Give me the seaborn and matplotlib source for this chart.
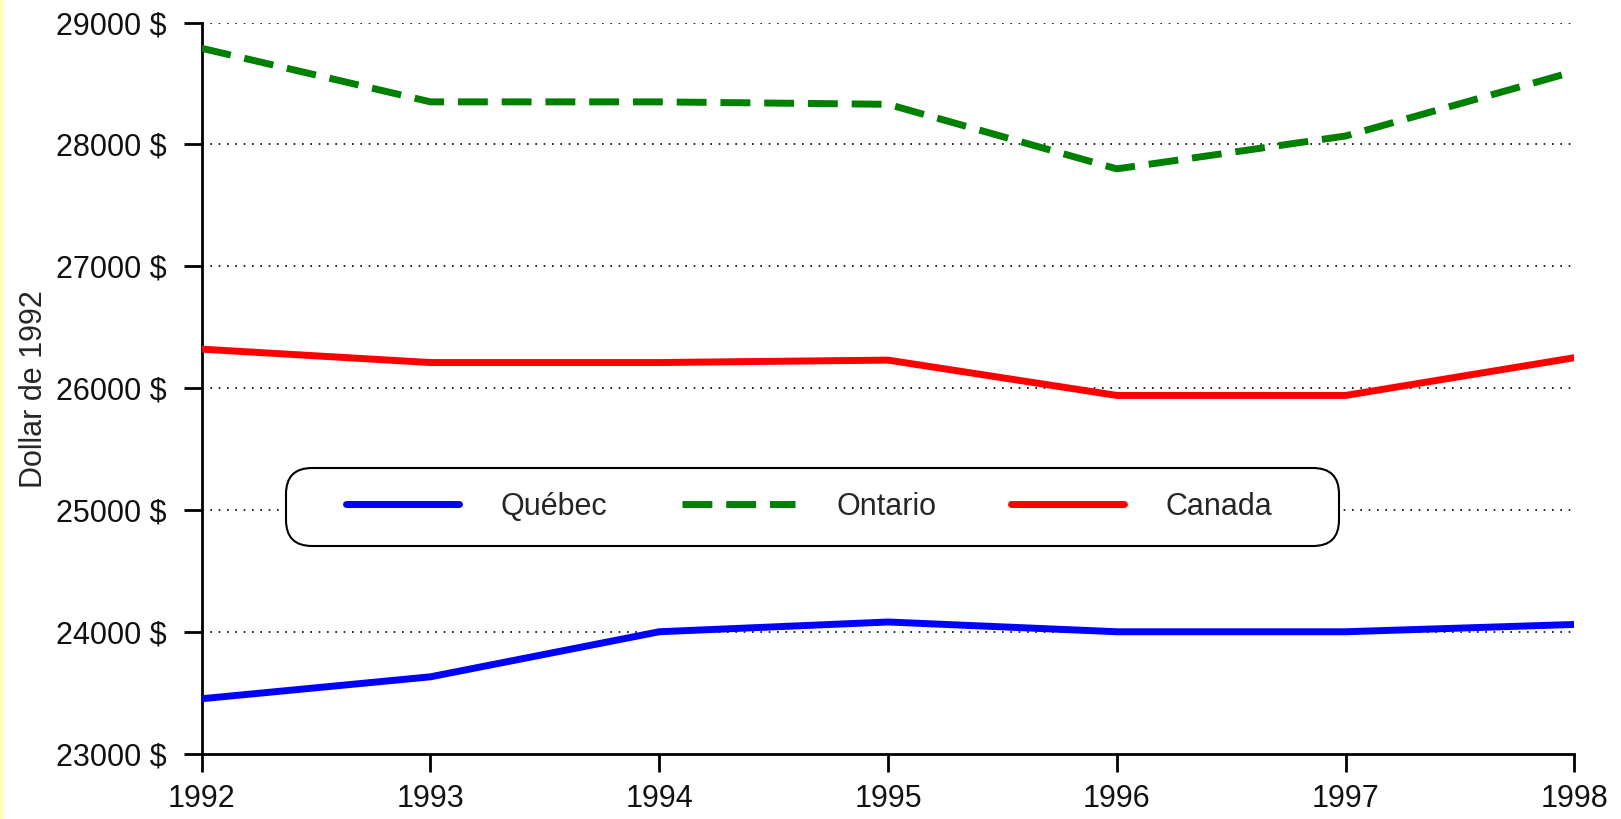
"""
Revenu moyen en dollars de 1992 : Québec, Ontario, Canada (1992-1998).
"""

import matplotlib
matplotlib.use("Agg")
import matplotlib.pyplot as plt
from matplotlib.patches import Rectangle, FancyBboxPatch
from matplotlib.ticker import FuncFormatter
import pandas as pd
import seaborn as sns

YEARS = [1992, 1993, 1994, 1995, 1996, 1997, 1998]
QUEBEC = [23450, 23630, 24000, 24080, 24000, 24000, 24060]
ONTARIO = [28790, 28350, 28350, 28330, 27800, 28070, 28600]
CANADA = [26320, 26210, 26210, 26230, 25940, 25940, 26250]

SERIES = ["Québec", "Ontario", "Canada"]
COLORS = {"Québec": "#0000FF", "Ontario": "#008000", "Canada": "#FF0000"}
YTICKS = [23000, 24000, 25000, 26000, 27000, 28000, 29000]
YLABEL = "Dollar de 1992"


def main():
    sns.set_style("white")
    plt.rcParams["font.family"] = ["Liberation Sans", "DejaVu Sans"]

    df = pd.DataFrame({
        "year": YEARS * 3,
        "value": QUEBEC + ONTARIO + CANADA,
        "region": [s for s in SERIES for _ in YEARS],
    })

    fig = plt.figure(figsize=(16.21, 8.19), dpi=100)
    fig.patch.set_facecolor("white")
    # pale yellow strip on the left edge
    fig.add_artist(Rectangle((0, 0), 4 / 1621, 1, transform=fig.transFigure,
                             facecolor="#FFFFC0", edgecolor="none", zorder=0))
    ax = fig.add_axes([0.1244, 0.0799, 0.8469, 0.8924])

    for region in SERIES:
        sub = df[df["region"] == region]
        line_kw = {"dashes": (4.3, 2.0)} if region == "Ontario" else {}
        sns.lineplot(data=sub, x="year", y="value", ax=ax, color=COLORS[region],
                     linewidth=5, label=region, zorder=3, **line_kw)

    ax.set_xlim(1992, 1998)
    ax.set_ylim(23000, 29000)
    ax.set_xticks(YEARS)
    ax.set_yticks(YTICKS)
    ax.yaxis.set_major_formatter(FuncFormatter(lambda v, _: f"{int(v)} $"))
    ax.set_xlabel("")
    ax.set_ylabel(YLABEL, fontsize=22)
    ax.yaxis.set_label_coords(-0.111, 0.498)

    for y in YTICKS[1:]:
        ax.axhline(y, color="black", linestyle=(0, (1, 4)), linewidth=1.2, zorder=1)

    sns.despine(ax=ax)
    for sp in ["left", "bottom"]:
        ax.spines[sp].set_linewidth(2)
        ax.spines[sp].set_color("black")
    ax.tick_params(axis="both", direction="out", length=13, width=2,
                   color="black", labelsize=22, labelcolor="#111111",
                   bottom=True, left=True)
    ax.tick_params(axis="y", pad=12)
    ax.tick_params(axis="x", pad=9)
    ax.set_facecolor("white")

    # rounded legend box (inches, so corners stay round)
    box = FancyBboxPatch((2.86, 2.73), 10.53, 0.78,
                         boxstyle="round,pad=0,rounding_size=0.26",
                         transform=fig.dpi_scale_trans, facecolor="white",
                         edgecolor="black", linewidth=1.5, zorder=4)
    ax.add_artist(box)

    leg = ax.legend(loc="center left", bbox_to_anchor=(0.1052, 0.3374),
                    ncol=3, fontsize=22, frameon=False,
                    handlelength=3.7, handletextpad=1.35, columnspacing=2.45,
                    borderpad=0, borderaxespad=0)
    leg.set_zorder(5)

    plt.savefig("out.png", dpi=100)
    plt.close()


if __name__ == "__main__":
    main()
